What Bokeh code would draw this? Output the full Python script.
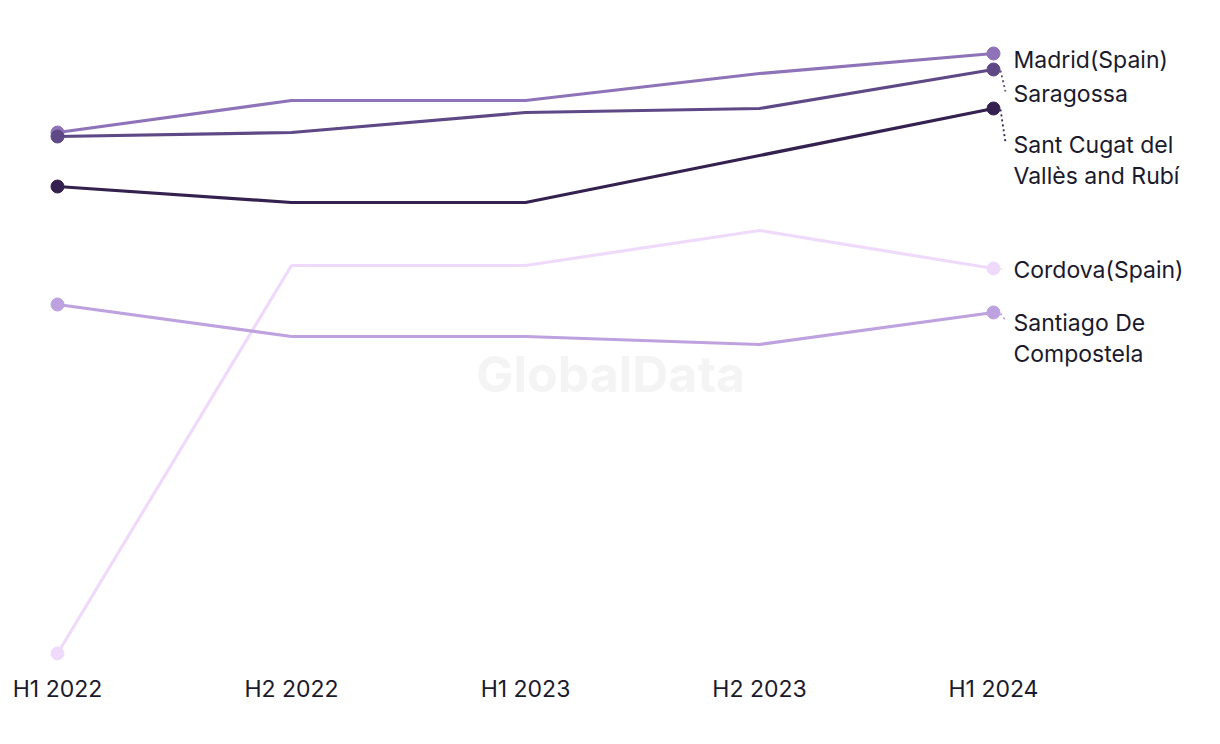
from bokeh.plotting import figure
from bokeh.embed import file_html
from bokeh.resources import INLINE
from bokeh.models import FixedTicker, Range1d
from bokeh.core.properties import value

periods = ["H1 2022", "H2 2022", "H1 2023", "H2 2023", "H1 2024"]
series_names = ["Cordova(Spain)", "Santiago De\nCompostela", "Madrid(Spain)", "Saragossa", "Sant Cugat del\nVallès and Rubí"]
cordova = [4.7, 43.5, 43.5, 47.0, 43.2]
santiago = [39.6, 36.4, 36.4, 35.6, 38.8]
madrid = [56.8, 60.0, 60.0, 62.7, 64.7]
saragossa = [56.4, 56.8, 58.8, 59.2, 63.1]
sant_cugat = [51.4, 49.8, 49.8, 54.5, 59.2]
series_values = [cordova, santiago, madrid, saragossa, sant_cugat]
colors = ["#f0dafc", "#bea2e0", "#8e73b8", "#5f4886", "#35214f"]
label_y = [43.1, 37.8, 64.1, 60.7, 55.6]
show_leader = [True, True, False, True, True]

TXT = "#1a1a2c"
FONT = "Inter"

p = figure(width=1204, height=728, output_backend="svg", toolbar_location=None,
           x_range=Range1d(-0.2436, 4.9017), y_range=Range1d(3.2, 70.0),
           min_border_left=0, min_border_right=0, min_border_top=0, min_border_bottom=60)
p.outline_line_color = None
p.grid.visible = False
p.yaxis.visible = False
xa = p.xaxis[0]
xa.ticker = FixedTicker(ticks=list(range(len(periods))))
xa.major_label_overrides = {i: s for i, s in enumerate(periods)}
xa.axis_line_color = None
xa.major_tick_line_color = None
xa.minor_tick_line_color = None
xa.major_label_text_font = FONT
xa.major_label_text_font_size = "23px"
xa.major_label_text_color = TXT
xa.major_label_standoff = 0

# watermark
p.text(x=[2.363], y=[32.7], text=["GlobalData"], text_font=value(FONT), text_font_size="50px",
       text_font_style="bold", text_color="#f4f4f4", text_align="center", text_baseline="middle")

xs = list(range(len(periods)))
last = len(periods) - 1
for name, vals, c, ly, lead in zip(series_names, series_values, colors, label_y, show_leader):
    p.line(xs, vals, line_color=c, line_width=3.2)
    p.scatter([0, last], [vals[0], vals[-1]], size=13, fill_color=c, line_color=c, marker="circle")
    lines = name.split("\n")
    lx = last + 20 / 234
    for k, ln in enumerate(lines):
        p.text(x=[lx], y=[ly - k * 3.1], text=[ln], text_font=value(FONT), text_font_size="23px",
               text_color=TXT, text_baseline="middle", text_align="left")
    if lead:
        p.line([last + 7 / 234, last + 12 / 234], [vals[-1] - 0.1, ly + (0.2 if ly < vals[-1] else -0.2)],
               line_color=c, line_width=1.8, line_dash="2 3")

open("out.html", "w").write(file_html(p, INLINE))
